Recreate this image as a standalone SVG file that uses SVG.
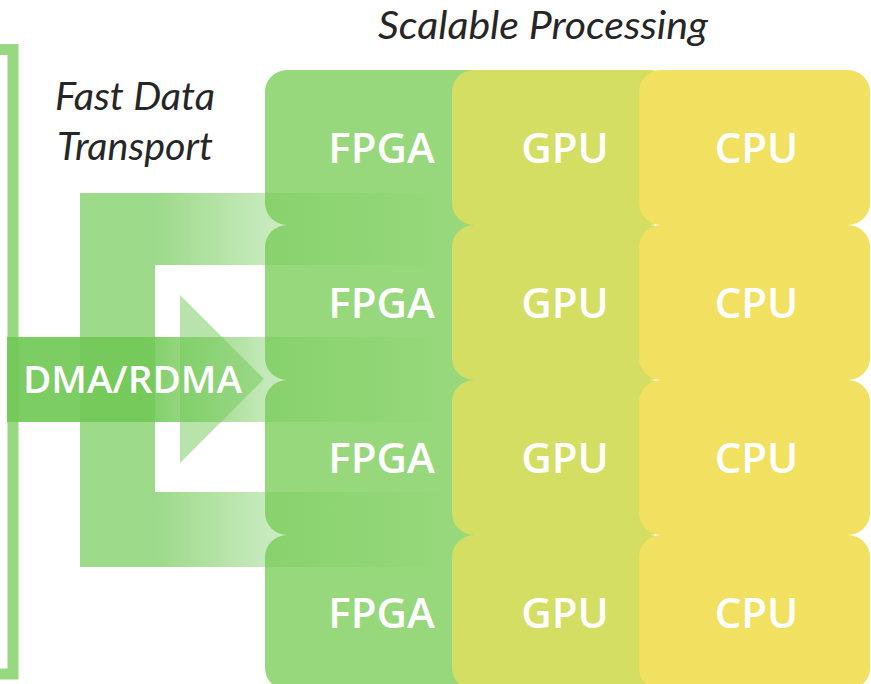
<svg xmlns="http://www.w3.org/2000/svg" width="871" height="684" viewBox="0 0 871 684">
  <defs>
    <style>
      .fpga { fill: #97d87c; }
      .gpu { fill: #d3de62; }
      .cpu { fill: #f2e160; }
      .unit { font-family: "Open Sans", "Liberation Sans", sans-serif; font-weight: 600; font-size: 42px; fill: #ffffff; text-anchor: middle; }
      .caption { font-family: Lato, "Liberation Sans", sans-serif; font-style: italic; font-size: 38px; fill: #262626; }
    </style>
    <!-- fan-out arms: solid at the left, fading out across the FPGA column -->
    <linearGradient id="armFade" gradientUnits="userSpaceOnUse" x1="80" y1="0" x2="455" y2="0">
      <stop offset="0" stop-color="#72c957" stop-opacity="0.7"/>
      <stop offset="0.2" stop-color="#72c957" stop-opacity="0.7"/>
      <stop offset="0.493" stop-color="#72c957" stop-opacity="0.4"/>
      <stop offset="1" stop-color="#72c957" stop-opacity="0"/>
    </linearGradient>
    <!-- DMA/RDMA trunk -->
    <linearGradient id="trunkFade" gradientUnits="userSpaceOnUse" x1="7" y1="0" x2="455" y2="0">
      <stop offset="0" stop-color="#72c957" stop-opacity="0.93"/>
      <stop offset="0.3" stop-color="#72c957" stop-opacity="0.93"/>
      <stop offset="0.576" stop-color="#72c957" stop-opacity="0.42"/>
      <stop offset="1" stop-color="#72c957" stop-opacity="0"/>
    </linearGradient>
  </defs>

  <rect width="871" height="684" fill="#ffffff"/>

  <!-- host frame, mostly off the left edge -->
  <g id="host">
    <rect x="-20" y="49.5" width="33" height="624.5" fill="none" stroke="#98d880" stroke-width="11"/>
  </g>

  <!-- processing grid: FPGA under GPU under CPU -->
  <g id="fpga-1"><rect class="fpga" x="265" y="70" width="230" height="155" rx="22"/></g>
  <g id="fpga-2"><rect class="fpga" x="265" y="225" width="230" height="155" rx="22"/></g>
  <g id="fpga-3"><rect class="fpga" x="265" y="380" width="230" height="155" rx="22"/></g>
  <g id="fpga-4"><rect class="fpga" x="265" y="535" width="230" height="155" rx="22"/></g>

  <g id="gpu-1"><rect class="gpu" x="452" y="70" width="220" height="155" rx="22"/></g>
  <g id="gpu-2"><rect class="gpu" x="452" y="225" width="220" height="155" rx="22"/></g>
  <g id="gpu-3"><rect class="gpu" x="452" y="380" width="220" height="155" rx="22"/></g>
  <g id="gpu-4"><rect class="gpu" x="452" y="535" width="220" height="155" rx="22"/></g>

  <g id="cpu-1"><rect class="cpu" x="639" y="70" width="231" height="155" rx="22"/></g>
  <g id="cpu-2"><rect class="cpu" x="639" y="225" width="231" height="155" rx="22"/></g>
  <g id="cpu-3"><rect class="cpu" x="639" y="380" width="231" height="155" rx="22"/></g>
  <g id="cpu-4"><rect class="cpu" x="639" y="535" width="231" height="155" rx="22"/></g>

  <!-- data transport -->
  <g id="connectors">
    <path d="M80 193 H455 V265 H155 V492 H455 V567 H80 Z" fill="url(#armFade)"/>
    <polygon points="180,295 264,379 180,463" fill="#72c957" fill-opacity="0.5"/>
    <rect x="7" y="337" width="448" height="85" fill="url(#trunkFade)"/>
    <text x="23" y="393" font-family="'Open Sans', 'Liberation Sans', sans-serif" font-weight="600" font-size="37" fill="#ffffff" textLength="219" lengthAdjust="spacingAndGlyphs">DMA/RDMA</text>
  </g>

  <!-- unit labels -->
  <g id="labels">
    <text class="unit" x="381.5" y="163">FPGA</text>
    <text class="unit" x="565" y="163">GPU</text>
    <text class="unit" x="756.5" y="163">CPU</text>
    <text class="unit" x="381.5" y="318">FPGA</text>
    <text class="unit" x="565" y="318">GPU</text>
    <text class="unit" x="756.5" y="318">CPU</text>
    <text class="unit" x="381.5" y="473">FPGA</text>
    <text class="unit" x="565" y="473">GPU</text>
    <text class="unit" x="756.5" y="473">CPU</text>
    <text class="unit" x="381.5" y="628">FPGA</text>
    <text class="unit" x="565" y="628">GPU</text>
    <text class="unit" x="756.5" y="628">CPU</text>
  </g>

  <g id="title">
    <text class="caption" x="378" y="39" textLength="330" lengthAdjust="spacingAndGlyphs">Scalable Processing</text>
  </g>
  <g id="transport-caption">
    <text class="caption" x="55" y="110" textLength="160" lengthAdjust="spacingAndGlyphs">Fast Data</text>
    <text class="caption" x="57" y="160" textLength="156" lengthAdjust="spacingAndGlyphs">Transport</text>
  </g>
</svg>
